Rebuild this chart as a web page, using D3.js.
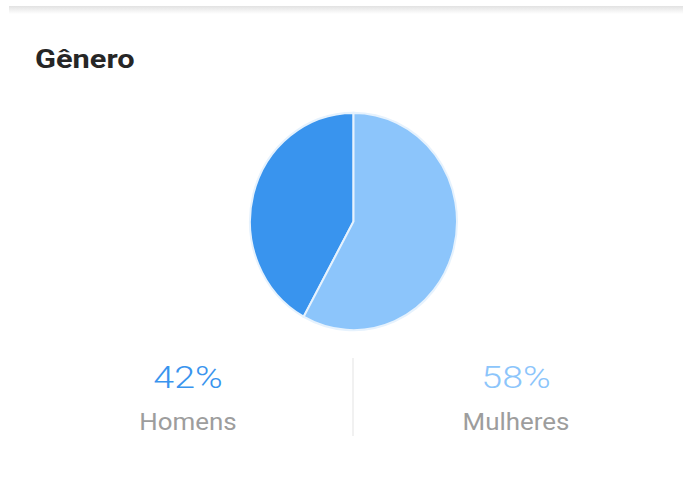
<!DOCTYPE html>
<html><head><meta charset="utf-8">
<script src="https://cdn.jsdelivr.net/npm/d3@7"></script>
<style>html,body{margin:0;padding:0;background:#fff;}</style>
</head><body>
<script>
const title = "Gênero";
const categories = ["Homens", "Mulheres"];
const values = [42, 58];
const percentLabels = ["42%", "58%"];
const colors = ["#3994ee", "#8cc5fb"];

const W = 683, H = 502;
const svg = d3.select("body").append("svg").attr("width", W).attr("height", H);

const defs = svg.append("defs");
const grad = defs.append("linearGradient").attr("id","sh").attr("x1",0).attr("y1",0).attr("x2",0).attr("y2",1);
grad.append("stop").attr("offset",0).attr("stop-color","#e2e2e2");
grad.append("stop").attr("offset",1).attr("stop-color","#ffffff");
svg.append("rect").attr("x",9).attr("y",6).attr("width",W-9).attr("height",8).attr("fill","url(#sh)");

svg.append("text").attr("transform","translate(35,68) scale(1.23,1)")
  .attr("font-family","Roboto").attr("font-weight",700).attr("font-size",25)
  .attr("fill","#262626").text(title);

const cx = 353.5, cy = 221.5, r = 103.5;
const total = d3.sum(values);
const start = -2*Math.PI*values[0]/total;
const pie = d3.pie().sort(null).startAngle(start).endAngle(start + 2*Math.PI);
const arc = d3.arc().innerRadius(0).outerRadius(r);
const g = svg.append("g").attr("transform", `translate(${cx},${cy}) scale(1,1.05)`);
g.selectAll("path").data(pie(values)).join("path")
  .attr("d", arc).attr("fill", (d,i)=>colors[i])
  .attr("stroke","#e6f2fd").attr("stroke-width",2);

const x = d3.scalePoint().domain(categories).range([188, 516]);
svg.append("line").attr("x1",353).attr("x2",353).attr("y1",358).attr("y2",436)
  .attr("stroke","#ececec").attr("stroke-width",1.5);
categories.forEach((c,i)=>{
  svg.append("text").attr("transform",`translate(${x(c)},388) scale(1.21,1)`).attr("text-anchor","middle")
    .attr("font-family","Roboto").attr("font-weight",300).attr("font-size",31)
    .attr("fill",colors[i]).text(percentLabels[i]);
  svg.append("text").attr("transform",`translate(${x(c)},430) scale(1.08,1)`).attr("text-anchor","middle")
    .attr("font-family","Roboto").attr("font-weight",400).attr("font-size",24)
    .attr("fill","#9d9d9d").text(c);
});
</script>
</body></html>
